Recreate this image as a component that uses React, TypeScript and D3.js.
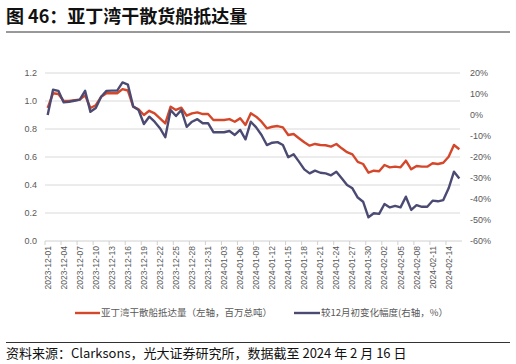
import React from 'react';
import * as d3 from 'd3';

// 亚丁湾干散货船抵达量, 2023-12-01 .. 2024-02-16 (daily)
const dates = d3.timeDay
  .range(new Date(2023, 11, 1), new Date(2024, 1, 17))
  .map(d3.timeFormat('%Y-%m-%d'));

// 左轴：百万总吨
const arrivals = [
  0.95, 1.055, 1.05, 1.0, 1.0, 1.005, 1.01, 1.04, 0.95, 0.97,
  1.03, 1.055, 1.055, 1.055, 1.085, 1.075, 0.96, 0.94, 0.9, 0.93,
  0.912, 0.876, 0.84, 0.959, 0.936, 0.952, 0.895, 0.912, 0.919, 0.907,
  0.907, 0.864, 0.864, 0.864, 0.871, 0.852, 0.876, 0.829, 0.912, 0.888,
  0.852, 0.805, 0.816, 0.821, 0.812, 0.757, 0.764, 0.734, 0.705, 0.681,
  0.693, 0.686, 0.684, 0.674, 0.693, 0.662, 0.634, 0.619, 0.565, 0.55,
  0.488, 0.502, 0.498, 0.543, 0.526, 0.531, 0.526, 0.574, 0.512, 0.536,
  0.531, 0.531, 0.555, 0.55, 0.559, 0.602, 0.686, 0.655,
];

// 右轴：较12月初变化幅度 (%)
const changePct = [
  0, 12, 11.5, 6, 6.3, 6.8, 7.3, 11.5, 1.5, 3.3,
  8.7, 11.5, 11.6, 11.6, 15.5, 14.5, 4, 2.4, -4.3, -0.8,
  -3.2, -6.3, -10.6, 2.4, -0.5, 2.4, -5.6, -3.2, -2.0, -3.9,
  -3.9, -8.2, -8.2, -8.2, -7.6, -9.5, -7.1, -11.6, -3.2, -5.9,
  -9.5, -14.3, -13.2, -12.9, -14.3, -20.1, -18.7, -22.2, -25.9, -27.8,
  -26.5, -27.5, -27.8, -28.7, -27.0, -30.1, -33.3, -34.9, -39.3, -41.3,
  -48.7, -46.8, -47.1, -42.4, -44, -43.3, -44, -38.9, -45.2, -42.9,
  -43.7, -43.7, -40.8, -41.1, -40.5, -34.9, -27, -30.2,
];

const leftTicks = [0, 0.2, 0.4, 0.6, 0.8, 1.0, 1.2];
const rightTicks = [20, 10, 0, -10, -20, -30, -40, -50, -60];

const title = '图 46：亚丁湾干散货船抵达量';
const legendLeft = '亚丁湾干散船抵达量（左轴，百万总吨）';
const legendRight = '较12月初变化幅度(右轴，%）';
const source = '资料来源：Clarksons，光大证券研究所，数据截至 2024 年 2 月 16 日';

const RED = '#d5472a';
const NAVY = '#4b4a73';
const font = '"Liberation Sans", Arial, "Noto Sans CJK SC", sans-serif';
const cjk = '"Noto Sans CJK SC", "Liberation Sans", sans-serif';

const App: React.FC = () => {
  const W = 516;
  const H = 364;
  const plot = { left: 45, right: 462, top: 73, bottom: 241 };

  const x = d3.scaleBand<string>().domain(dates).range([plot.left, plot.right]);
  const cx = (d: string) => (x(d) as number) + x.bandwidth() / 2;
  const yL = d3.scaleLinear().domain([0, 1.2]).range([plot.bottom, plot.top]);
  const yR = d3.scaleLinear().domain([-60, 20]).range([plot.bottom, plot.top]);

  const lineL = d3.line<number>().x((_, i) => cx(dates[i])).y(v => yL(v));
  const lineR = d3.line<number>().x((_, i) => cx(dates[i])).y(v => yR(v));

  const labelDates = dates.filter((_, i) => i % 3 === 0);

  return (
    <div style={{ position: 'absolute', left: 0, top: 0 }}>
      <svg width={W} height={H} style={{ display: 'block', background: '#fff' }}>
        <text x={6} y={23} fontFamily={cjk} fontSize={18} fontWeight={700} fill="#111">
          {title}
        </text>
        <line x1={6} x2={510} y1={32} y2={32} stroke="#333" strokeWidth={1} />

        {leftTicks.map(t => (
          <g key={'l' + t}>
            {t > 0 && (
              <line x1={plot.left} x2={plot.right - 2} y1={yL(t)} y2={yL(t)} stroke="#d9d9d9" strokeWidth={1} />
            )}
            <text x={37} y={yL(t)} dy="0.35em" textAnchor="end" fontFamily={font} fontSize={9} fill="#595959">
              {t.toFixed(1)}
            </text>
          </g>
        ))}

        {rightTicks.map(t => (
          <text key={'r' + t} x={470} y={yR(t)} dy="0.35em" fontFamily={font} fontSize={9} fill="#595959">
            {t + '%'}
          </text>
        ))}

        <line x1={plot.left} x2={plot.right} y1={plot.bottom} y2={plot.bottom} stroke="#d0d0d0" strokeWidth={1} />
        {dates.map((d, i) =>
          i % 3 === 0 ? (
            <line key={'t' + d} x1={x(d)} x2={x(d)} y1={plot.bottom} y2={plot.bottom + 4} stroke="#d0d0d0" />
          ) : null
        )}
        {labelDates.map(d => (
          <text
            key={'x' + d}
            transform={`translate(${cx(d)},246) rotate(-90)`}
            dy="0.35em"
            textAnchor="end"
            fontFamily={font}
            fontSize={8.5}
            fill="#595959"
          >
            {d}
          </text>
        ))}

        <path d={lineL(arrivals) ?? ''} fill="none" stroke={RED} strokeWidth={2.4} strokeLinejoin="round" />
        <path d={lineR(changePct) ?? ''} fill="none" stroke={NAVY} strokeWidth={2.4} strokeLinejoin="round" />

        <line x1={75} x2={100} y1={313} y2={313} stroke={RED} strokeWidth={2.4} />
        <text x={101} y={313} dy="0.35em" fontFamily={cjk} fontSize={9.5} fill="#595959">
          {legendLeft}
        </text>
        <line x1={294} x2={320} y1={313} y2={313} stroke={NAVY} strokeWidth={2.4} />
        <text x={321} y={313} dy="0.35em" fontFamily={cjk} fontSize={9.5} fill="#595959">
          {legendRight}
        </text>

        <line x1={6} x2={510} y1={342.5} y2={342.5} stroke="#333" strokeWidth={1} />
        <text x={6} y={357.5} fontFamily={cjk} fontSize={13} fill="#111">
          {source}
        </text>
      </svg>
    </div>
  );
};

export default App;
